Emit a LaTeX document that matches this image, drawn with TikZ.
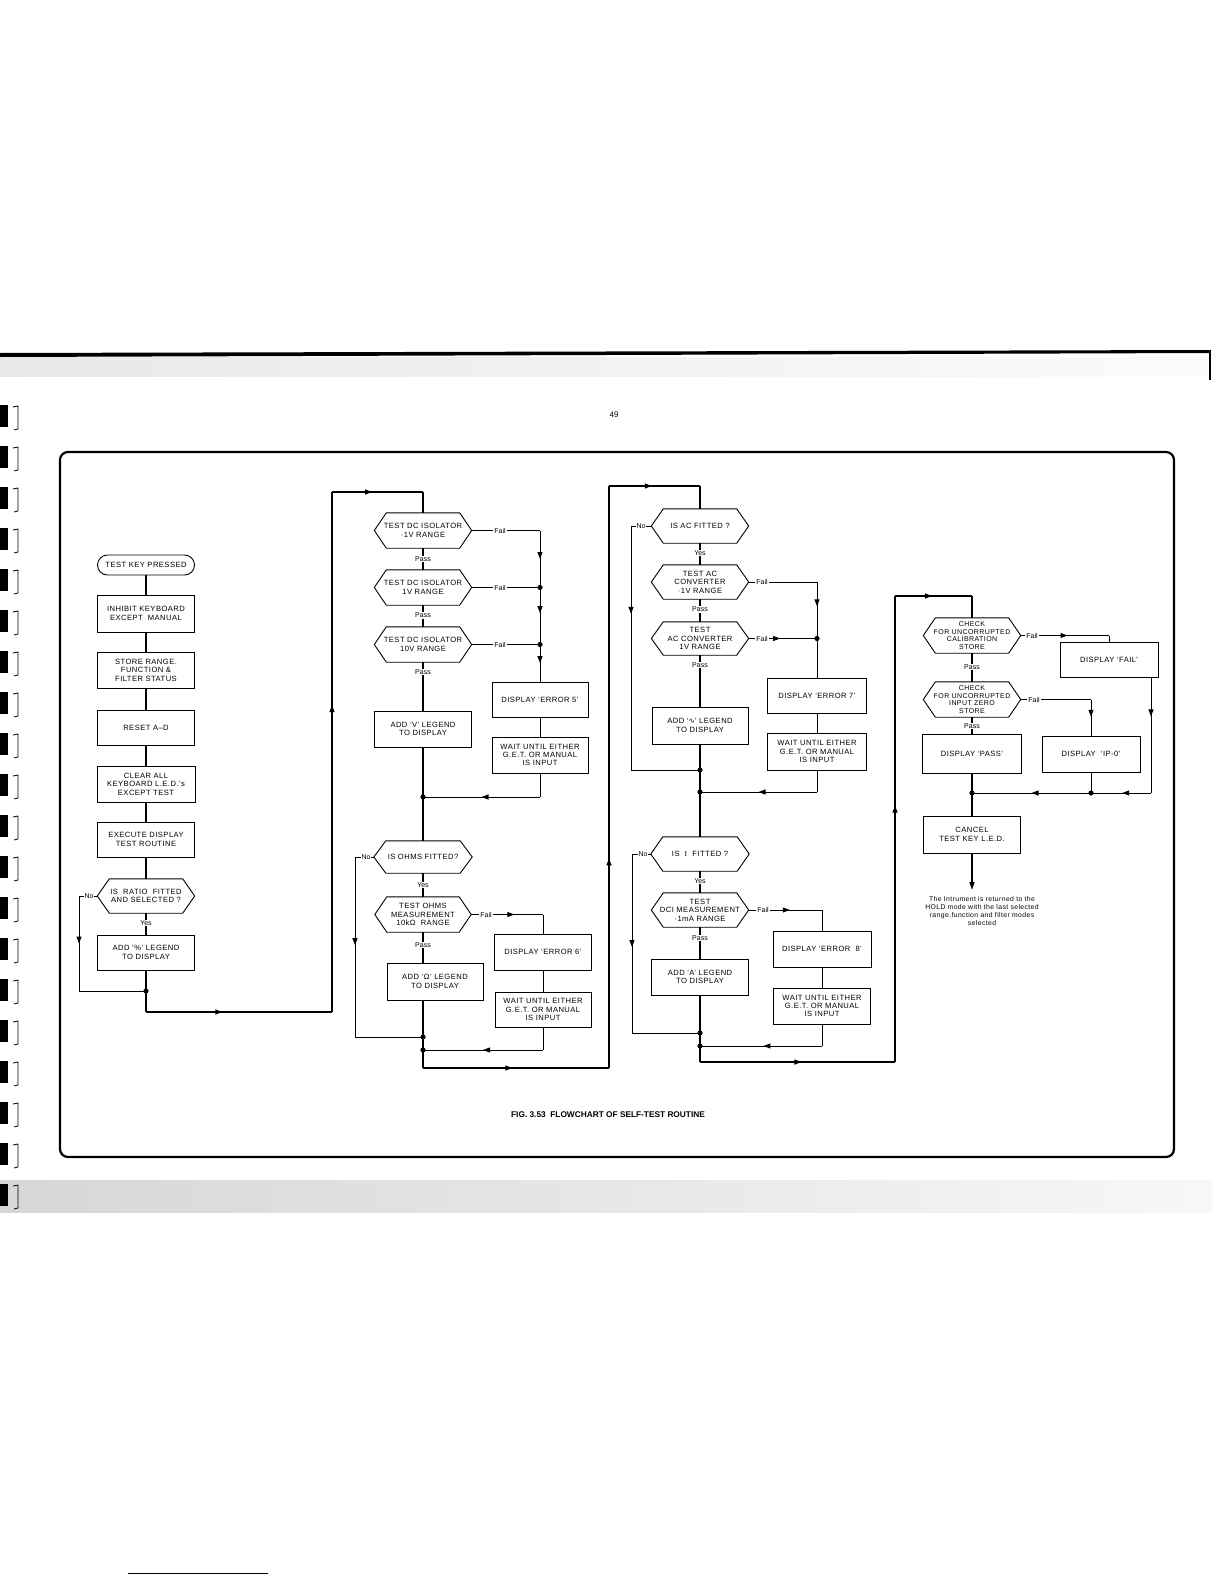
\documentclass[tikz,border=0pt]{standalone}
\usepackage{fontspec}
\setmainfont{Liberation Sans}
\newfontfamily\boxf{Liberation Sans}[LetterSpace=6]
\newfontfamily\dejavu{DejaVu Sans}
\newfontfamily\serifI{Liberation Serif}
\usetikzlibrary{arrows.meta,decorations.markings,calc}
\tikzset{
  boxline/.style={line width=0.9pt},
  pbox/.style={draw, line width=0.9pt, rectangle, inner sep=0pt, align=center, font=\boxf\fontsize{7.6}{8.4}\selectfont},
  hexn/.style={inner sep=0pt, align=center, font=\boxf\fontsize{7.6}{8.4}\selectfont},
  hexs/.style={inner sep=0pt, align=center, font=\boxf\fontsize{7}{7.8}\selectfont},
  flow/.style={line width=1.5pt},
  conn/.style={line width=1pt},
  lbl/.style={fill=white, inner sep=1pt, font=\fontsize{7}{7.5}\selectfont},
  marr/.style={postaction={decorate}, decoration={markings, mark=at position #1 with {\arrow{Triangle[length=7pt,width=5pt]}}}},
  marr/.default=0.5,
}
\newcommand\hexnode[7][hexn]{%
  \node[#1, minimum width=#5pt, minimum height=#6pt] (#2) at (#3,#4) {#7};
  \draw[boxline] (#2.west) -- ([xshift=12pt]#2.north west) -- ([xshift=-12pt]#2.north east) -- (#2.east) -- ([xshift=-12pt]#2.south east) -- ([xshift=12pt]#2.south west) -- cycle;}
\newcommand\bx[6]{\node[pbox, minimum width=#4pt, minimum height=#5pt] (#1) at (#2,#3) {#6};}
\newcommand\jdot[1]{\fill (#1) circle (2.6pt);}
\begin{document}
\begin{tikzpicture}[x=1pt,y=-1pt]
\useasboundingbox (0,0) rectangle (1224,1584);
% ---- scan edges ----
\fill[black] (0,353) -- (1210,350) -- (1210,353) -- (0,357) -- cycle;
\shade[left color=gray!18, right color=gray!3] (0,357) rectangle (1210,376);
\draw[line width=1.2pt] (1210,350) -- (1210,380);
\shade[left color=gray!32, right color=gray!6] (0,1180) rectangle (1212,1212);
\foreach \yy in {405,446,487,528,569,610,651,692,733,774,815,856,897,938,979,1020,1061,1102,1143,1184}{
  \fill[black] (0,\yy) rectangle (8,\yy+22);
  \draw[line width=0.8pt] (13,\yy+2) -- (18,\yy+1) -- (18,\yy+24) -- (14,\yy+25);
}
\draw[line width=0.6pt] (128,1573) -- (268,1573);
\node[font=\fontsize{8}{9}\selectfont] (pgno) at (614,415) {49};
% ---- frame ----
\draw[line width=2.2pt, rounded corners=8pt] (60,452) rectangle (1174,1157);
\node[font=\bfseries\fontsize{8.3}{9}\selectfont] (cap) at (608,1115) {FIG. 3.53\ \ FLOWCHART OF SELF-TEST ROUTINE};

% ================= column 1 =================
\node[draw, line width=0.9pt, rounded corners=10pt, minimum width=97pt, minimum height=20pt, inner sep=0pt, font=\boxf\fontsize{7.6}{8.4}\selectfont] (t1) at (146,565) {TEST KEY PRESSED};
\bx{b1}{146}{613.5}{97}{37}{INHIBIT KEYBOARD\\EXCEPT\ \ MANUAL}
\bx{b2}{146}{670}{97}{36}{STORE RANGE.\\FUNCTION \&\\FILTER STATUS}
\bx{b3}{146}{727.5}{97}{35}{RESET A–D}
\bx{b4}{146}{784}{98}{36}{CLEAR ALL\\KEYBOARD L.E.D.’s\\EXCEPT TEST}
\bx{b5}{146}{839.5}{97}{35}{EXECUTE DISPLAY\\TEST ROUTINE}
\hexnode{h1}{146}{896}{97}{34}{IS\ \ RATIO\ \ FITTED\\AND SELECTED ?}
\bx{b6}{146}{952.5}{97}{35}{ADD ‘\%’ LEGEND\\TO DISPLAY}
\coordinate (c1no) at (79,896);
\coordinate (c1nob) at (79,991);
\coordinate (j1) at (146,991);
\coordinate (c1bl) at (146,1012);
\coordinate (c1br) at (332,1012);
\coordinate (c1tr) at (332,492);
\coordinate (c2top) at (423,492);
\foreach \a/\b in {t1/b1,b1/b2,b2/b3,b3/b4,b4/b5,b5/h1,h1/b6}{\draw[flow] (\a.south) -- (\b.north);}
\draw[flow] (b6.south) -- (j1) -- (c1bl);
\draw[conn] (h1.west) -- (c1no);
\draw[conn, marr=0.5] (c1no) -- (c1nob);
\draw[conn] (c1nob) -- (j1);
\draw[flow, marr=0.41] (c1bl) -- (c1br);
\draw[flow, marr=0.59] (c1br) -- (c1tr);
\draw[flow, marr=0.44] (c1tr) -- (c2top);
\jdot{j1}
\node[lbl] (l1no) at (89,896) {No};
\node[lbl] (l1yes) at (146,923) {Yes};

% ================= column 2 =================
\hexnode{hA}{423}{530.5}{97}{35}{TEST DC ISOLATOR\\·1V RANGE}
\hexnode{hB}{423}{587.5}{97}{35}{TEST DC ISOLATOR\\1V RANGE}
\hexnode{hC}{423}{644.5}{97}{35}{TEST DC ISOLATOR\\10V RANGE}
\bx{e5}{540}{699.5}{96}{35}{DISPLAY ‘ERROR 5’}
\bx{w5}{540}{755}{96}{36}{WAIT UNTIL EITHER\\G.E.T. OR MANUAL\\IS INPUT}
\bx{v}{423}{729}{97}{36}{ADD ‘V’ LEGEND\\TO DISPLAY}
\hexnode{hO}{423}{857}{98}{32}{IS OHMS FITTED?}
\hexnode{hT}{423}{914.5}{96}{35}{TEST OHMS\\MEASUREMENT\\10kΩ\ \ RANGE}
\bx{e6}{543}{952}{97}{36}{DISPLAY ‘ERROR 6’}
\bx{w6}{543}{1009.5}{96}{35}{WAIT UNTIL EITHER\\G.E.T. OR MANUAL\\IS INPUT}
\bx{om}{435}{981.5}{96}{37}{ADD ‘Ω’ LEGEND\\TO DISPLAY}
\coordinate (f2a) at (540,530.5);
\coordinate (d2b) at (540,587.5);
\coordinate (d2c) at (540,644.5);
\coordinate (w5b) at (540,797);
\coordinate (jV) at (423,797);
\coordinate (c2no) at (355,857);
\coordinate (c2nob) at (355,1037);
\coordinate (jN) at (423,1037);
\coordinate (f2t) at (543,914.5);
\coordinate (w6b) at (543,1050);
\coordinate (jW) at (423,1050);
\coordinate (c2bl) at (423,1068);
\coordinate (c2br) at (609,1068);
\coordinate (c2tr) at (609,486);
\coordinate (c3top) at (700,486);
\draw[flow] (c2top) -- (hA.north);
\draw[flow] (hA.south) -- (hB.north);
\draw[flow] (hB.south) -- (hC.north);
\draw[flow] (hC.south) -- (v.north);
\draw[flow] (v.south) -- (jV) -- (hO.north);
\draw[conn] (hA.east) -- (f2a);
\draw[conn, marr=0.5] (f2a) -- (d2b);
\draw[conn] (hB.east) -- (d2b);
\draw[conn, marr=0.45] (d2b) -- (d2c);
\draw[conn] (hC.east) -- (d2c);
\draw[conn, marr=0.5] (d2c) -- (e5.north);
\draw[conn] (e5.south) -- (w5.north);
\draw[conn] (w5.south) -- (w5b);
\draw[conn, marr=0.5] (w5b) -- (jV);
\draw[conn] (hO.west) -- (c2no);
\draw[conn, marr=0.49] (c2no) -- (c2nob);
\draw[conn] (c2nob) -- (jN);
\draw[flow] (hO.south) -- (hT.north);
\draw[conn, marr=0.6] (hT.east) -- (f2t);
\draw[conn] (f2t) -- (e6.north);
\draw[conn] (e6.south) -- (w6.north);
\draw[conn] (w6.south) -- (w6b);
\draw[conn, marr=0.5] (w6b) -- (jW);
\draw[flow] (hT.south) -- (hT.south |- om.north);
\draw[flow] (jN |- om.south) -- (jN) -- (jW) -- (c2bl);
\draw[flow, marr=0.48] (c2bl) -- (c2br);
\draw[flow, marr=0.36] (c2br) -- (c2tr);
\draw[flow, marr=0.47] (c2tr) -- (c3top);
\foreach \d in {d2b,d2c,jV,jN,jW}{\jdot{\d}}
\node[lbl] (l2f1) at (500,530.5) {Fail};
\node[lbl] (l2f2) at (500,587.5) {Fail};
\node[lbl] (l2f3) at (500,644.5) {Fail};
\node[lbl] (l2p1) at (423,559) {Pass};
\node[lbl] (l2p2) at (423,615.5) {Pass};
\node[lbl] (l2p3) at (423,672) {Pass};
\node[lbl] (l2no) at (366,857) {No};
\node[lbl] (l2yes) at (423,885) {Yes};
\node[lbl] (l2f4) at (486,914.5) {Fail};
\node[lbl] (l2p4) at (423,945) {Pass};

% ================= column 3 =================
\hexnode{hAC}{700}{526}{97}{34}{IS AC FITTED ?}
\hexnode{hAC1}{700}{582}{97}{34}{TEST AC\\CONVERTER\\·1V RANGE}
\hexnode{hAC2}{700}{638.5}{97}{33}{TEST\\AC CONVERTER\\1V RANGE}
\bx{e7}{817}{695.5}{99}{35}{DISPLAY ‘ERROR 7’}
\bx{w7}{817}{751.5}{99}{37}{WAIT UNTIL EITHER\\G.E.T. OR MANUAL\\IS INPUT}
\bx{ac}{700}{725.5}{96}{37}{ADD ‘{\dejavu ∿}’ LEGEND\\TO DISPLAY}
\hexnode{hI}{700}{854}{98}{34}{IS\ \ {\serifI I}\ \ FITTED ?}
\hexnode{hD}{700}{910}{97}{34}{TEST\\DCI MEASUREMENT\\·1mA RANGE}
\bx{e8}{822}{949}{98}{36}{DISPLAY ‘ERROR\ \ 8’}
\bx{w8}{822}{1006}{97}{36}{WAIT UNTIL EITHER\\G.E.T. OR MANUAL\\IS INPUT}
\bx{aa}{700}{977}{97}{36}{ADD ‘A’ LEGEND\\TO DISPLAY}
\coordinate (c3no) at (631,526);
\coordinate (c3nob) at (631,770);
\coordinate (jA) at (700,770);
\coordinate (f3a) at (817,582);
\coordinate (d3) at (817,638.5);
\coordinate (w7b) at (817,792);
\coordinate (jB) at (700,792);
\coordinate (c3mo) at (632,854);
\coordinate (c3mob) at (632,1033);
\coordinate (jC) at (700,1033);
\coordinate (f3d) at (822,910);
\coordinate (w8b) at (822,1046);
\coordinate (jD) at (700,1046);
\coordinate (c3bl) at (700,1062);
\coordinate (c3br) at (895,1062);
\coordinate (c3tr) at (895,596);
\coordinate (c4top) at (972,596);
\draw[flow] (c3top) -- (hAC.north);
\draw[flow] (hAC.south) -- (hAC1.north);
\draw[flow] (hAC1.south) -- (hAC2.north);
\draw[flow] (hAC2.south) -- (ac.north);
\draw[flow] (ac.south) -- (jA) -- (jB) -- (hI.north);
\draw[conn] (hAC.west) -- (c3no);
\draw[conn, marr=0.36] (c3no) -- (c3nob);
\draw[conn] (c3nob) -- (jA);
\draw[conn] (hAC1.east) -- (f3a);
\draw[conn, marr=0.43] (f3a) -- (d3);
\draw[conn, marr=0.46] (hAC2.east) -- (d3);
\draw[conn] (d3) -- (e7.north);
\draw[conn] (e7.south) -- (w7.north);
\draw[conn] (w7.south) -- (w7b);
\draw[conn, marr=0.5] (w7b) -- (jB);
\draw[conn] (hI.west) -- (c3mo);
\draw[conn, marr=0.52] (c3mo) -- (c3mob);
\draw[conn] (c3mob) -- (jC);
\draw[flow] (hI.south) -- (hD.north);
\draw[conn, marr=0.56] (hD.east) -- (f3d);
\draw[conn] (f3d) -- (e8.north);
\draw[conn] (e8.south) -- (w8.north);
\draw[conn] (w8.south) -- (w8b);
\draw[conn, marr=0.48] (w8b) -- (jD);
\draw[flow] (hD.south) -- (aa.north);
\draw[flow] (aa.south) -- (jC) -- (jD) -- (c3bl);
\draw[flow, marr=0.52] (c3bl) -- (c3br);
\draw[flow, marr=0.55] (c3br) -- (c3tr);
\draw[flow, marr=0.48] (c3tr) -- (c4top);
\foreach \d in {d3,jA,jB,jC,jD}{\jdot{\d}}
\node[lbl] (l3no) at (641,526) {No};
\node[lbl] (l3yes) at (700,553) {Yes};
\node[lbl] (l3f1) at (762,582) {Fail};
\node[lbl] (l3p1) at (700,609.5) {Pass};
\node[lbl] (l3f2) at (762,638.5) {Fail};
\node[lbl] (l3p2) at (700,665) {Pass};
\node[lbl] (l3no2) at (643,854) {No};
\node[lbl] (l3yes2) at (700,881) {Yes};
\node[lbl] (l3f3) at (763,910) {Fail};
\node[lbl] (l3p3) at (700,938) {Pass};

% ================= column 4 =================
\hexnode[hexs]{hCal}{972}{635.5}{97}{35}{CHECK\\FOR UNCORRUPTED\\CALIBRATION\\STORE}
\bx{fb}{1109}{659.5}{98}{35}{DISPLAY ‘FAIL’}
\hexnode[hexs]{hIZ}{972}{699.5}{97}{35}{CHECK\\FOR UNCORRUPTED\\INPUT ZERO\\STORE}
\bx{ip}{1091}{754}{98}{36}{DISPLAY\ \ ‘IP-0’}
\bx{ps}{972}{753.5}{99}{39}{DISPLAY ‘PASS’}
\bx{cn}{972}{834.5}{97}{37}{CANCEL\\TEST KEY L.E.D.}
\coordinate (f4a) at (1109,635.5);
\coordinate (f4b) at (1091,699.5);
\coordinate (fbo) at (1151,677);
\coordinate (fbb) at (1151,793);
\coordinate (jE) at (1091,793);
\coordinate (jF) at (972,793);
\coordinate (cend) at (972,890);
\draw[flow] (c4top) -- (hCal.north);
\draw[flow] (hCal.south) -- (hIZ.north);
\draw[flow] (hIZ.south) -- (ps.north);
\draw[flow] (ps.south) -- (jF) -- (cn.north);
\draw[flow, -{Triangle[length=8pt,width=5pt]}] (cn.south) -- (cend);
\draw[conn, marr=0.53] (hCal.east) -- (f4a);
\draw[conn] (f4a) -- (fb.north);
\draw[conn] (hIZ.east) -- (f4b);
\draw[conn, marr=0.48] (f4b) -- (ip.north);
\draw[conn, marr=0.34] (fbo) -- (fbb);
\draw[conn, marr=0.48] (fbb) -- (jE);
\draw[conn] (ip.south) -- (jE);
\draw[conn, marr=0.5] (jE) -- (jF);
\foreach \d in {jE,jF}{\jdot{\d}}
\node[lbl] (l4f1) at (1032,635.5) {Fail};
\node[lbl] (l4p1) at (972,667) {Pass};
\node[lbl] (l4f2) at (1034,699.5) {Fail};
\node[lbl] (l4p2) at (972,726) {Pass};
\node[align=center, inner sep=0pt, font=\boxf\fontsize{6.8}{8}\selectfont] (note) at (982,911) {The Intrument is returned to the\\HOLD mode with the last selected\\range.function and filter modes\\selected};
\end{tikzpicture}
\end{document}
